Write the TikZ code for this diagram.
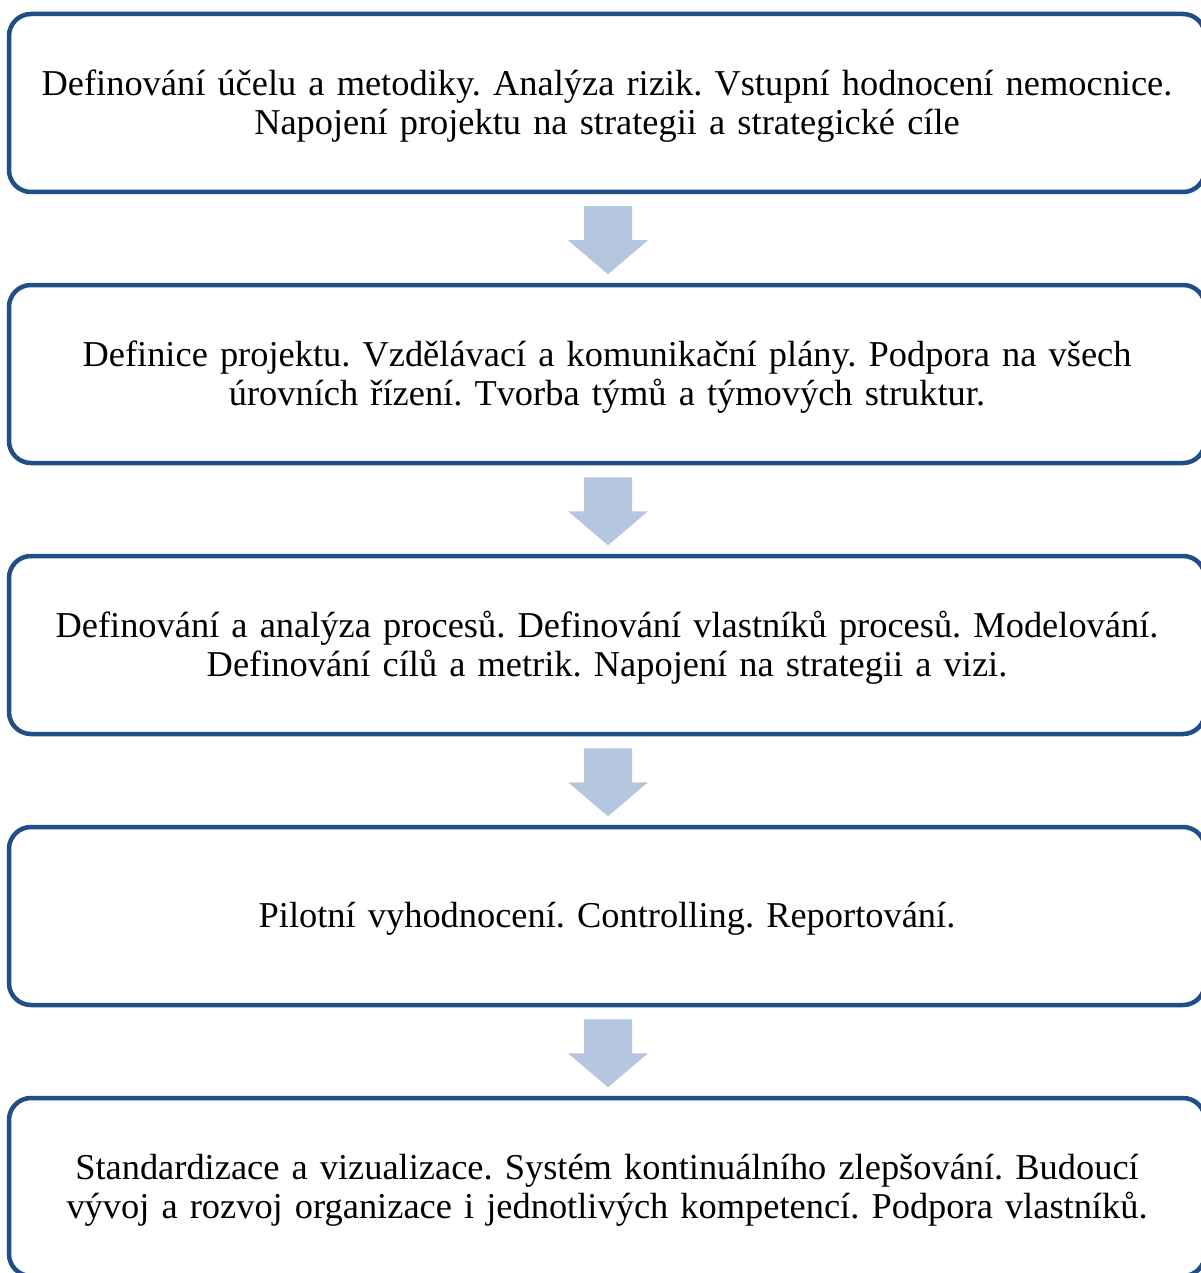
\documentclass[tikz,border=0pt]{standalone}
\usepackage{fontspec}
\usetikzlibrary{calc}
\setmainfont{Liberation Serif}
\definecolor{boxline}{RGB}{32,78,134}
\definecolor{arrowfill}{RGB}{180,198,224}
\begin{document}
\begin{tikzpicture}[x=1pt,y=1pt,
  stage/.style={draw=boxline, line width=4.5pt, rounded corners=22pt, fill=white,
    minimum width=1196pt, minimum height=178pt, inner sep=0pt},
  stagetext/.style={inner sep=0pt, text width=1190pt, align=center,
    font=\frenchspacing\fontsize{36.4}{39}\selectfont},
  blockarrow/.style={fill=arrowfill, draw=none}]
\useasboundingbox (0,0) rectangle (1200,-1273);
\node[stage] (b1) at (607,-103) {};
\node[stagetext] (l1) at ([yshift=-3]b1.center) {Definování účelu a metodiky. Analýza rizik. Vstupní hodnocení nemocnice.\\Napojení projektu na strategii a strategické cíle};
\node[stage] (b2) at (607,-374) {};
\node[stagetext] (l2) at ([yshift=-3]b2.center) {Definice projektu. Vzdělávací a komunikační plány. Podpora na všech\\úrovních řízení. Tvorba týmů a týmových struktur.};
\node[stage] (b3) at (607,-645) {};
\node[stagetext] (l3) at ([yshift=-3]b3.center) {Definování a analýza procesů. Definování vlastníků procesů. Modelování.\\Definování cílů a metrik. Napojení na strategii a vizi.};
\node[stage] (b4) at (607,-916) {};
\node[stagetext] (l4) at ([yshift=-3]b4.center) {Pilotní vyhodnocení. Controlling. Reportování.};
\node[stage] (b5) at (607,-1187) {};
\node[stagetext] (l5) at ([yshift=-3]b5.center) {Standardizace a vizualizace. Systém kontinuálního zlepšování. Budoucí\\vývoj a rozvoj organizace i jednotlivých kompetencí. Podpora vlastníků.};
\foreach \a/\b in {b1/b2,b2/b3,b3/b4,b4/b5}{
  \path (\a.south) ++(1,-12) coordinate (t\a);
  \fill[blockarrow] (t\a) ++(-24,0) -- ++(48,0) -- ++(0,-34) -- ++(16,0)
     -- ($(t\a)+(0,-68)$) -- ($(t\a)+(-40,-34)$) -- ++(16,0) -- cycle;
}
\end{tikzpicture}
\end{document}
